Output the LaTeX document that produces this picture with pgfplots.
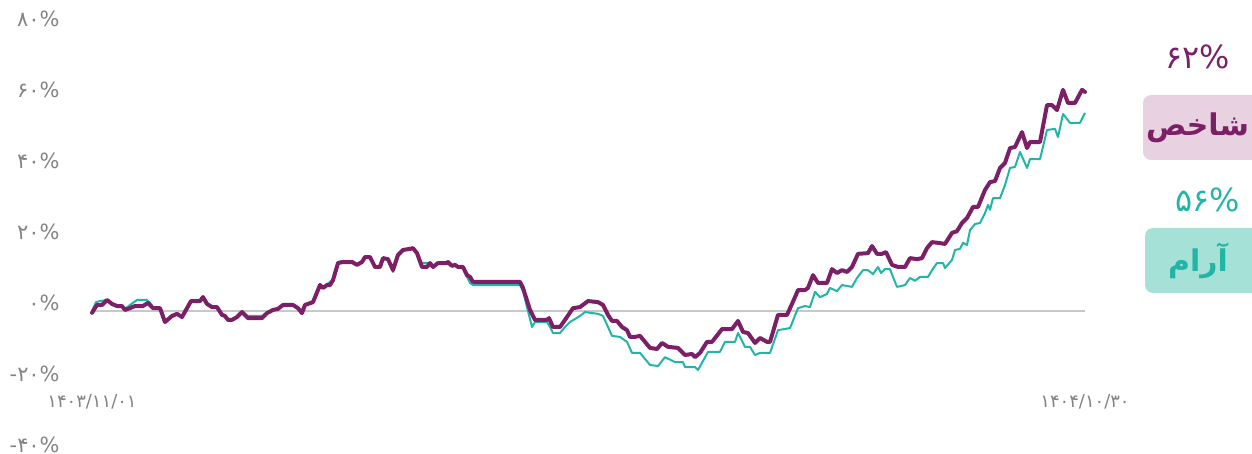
\documentclass[border=0pt]{standalone}
\usepackage{fontspec}
\usepackage{pgfplots}
\pgfplotsset{compat=1.18}
\TeXXeTstate=1
\newfontfamily\fa{DejaVu Sans}
\newfontfamily\arabicfont[Script=Arabic]{DejaVu Sans}
\definecolor{shakhes}{HTML}{7B1F66}
\definecolor{aram}{HTML}{22B5A6}
\definecolor{shakhesbg}{HTML}{E8D2E2}
\definecolor{arambg}{HTML}{A6E1D7}
\definecolor{lbl}{HTML}{838383}
\definecolor{zeroline}{HTML}{C8C8C8}

\begin{document}
\begin{tikzpicture}
\begin{axis}[
  width=496.5bp, height=213bp, scale only axis,
  xmin=0, xmax=993, ymin=-40, ymax=80,
  clip=false,
  axis line style={draw=none},
  major tick length=0pt,
  ytick={-40,-20,0,20,40,60,80},
  yticklabels={-۴۰\%,-۲۰\%,۰\%,۲۰\%,۴۰\%,۶۰\%,۸۰\%},
  yticklabel style={anchor=base east, inner sep=0pt, xshift=-16bp, yshift=0.5bp,
    font=\fa\fontsize{10.5}{12}\selectfont, text=lbl},
  xtick={0,993},
  xticklabels={۱۴۰۳/۱۱/۰۱,۱۴۰۴/۱۰/۳۰},
  xticklabel style={anchor=center, inner sep=0pt, yshift=25.5bp,
    font=\fa\fontsize{9}{10}\selectfont, text=lbl},
]
\draw[zeroline, line width=0.6bp] (axis cs:0,0) -- (axis cs:993,0);

% آرام
\addplot[aram, line width=1bp, line join=round] coordinates {
(0,0)(4,2.5)(8,2.8)(15,3.1)(20,2.0)(25,1.7)(30,1.4)(33,0.6)(38,1.7)(45,3.1)
(55,3.1)(58,2.3)(61,0.8)(68,0.8)(73,-3.1)(80,-1.4)(85,-0.8)(90,-1.7)(95,0.8)
(99,2.8)(108,2.8)(111,4.2)(115,2.0)(120,1.1)(125,1.1)(130,-1.1)(133,-1.4)
(136,-2.5)(140,-2.5)(145,-1.7)(150,-0.3)(156,-1.4)(170,-1.4)(175,-0.3)
(181,0.3)(186,0.6)(191,1.7)(201,1.7)(206,0.8)(210,-0.6)(213,1.7)(221,2.8)
(228,7.6)(231,6.8)(235,7.6)(241,8.7)(246,13.8)(251,14.1)(260,14.1)(265,13.0)
(270,13.8)(273,15.2)(278,15.2)(283,12.4)(288,12.4)(291,14.9)(296,14.6)
(301,11.0)(306,15.8)(311,17.2)(318,17.5)(321,17.7)(325,16.3)(330,13.5)
(335,13.5)(338,13.5)(341,12.4)(346,13.5)(355,13.5)(360,12.7)(363,13.0)
(366,12.4)(371,12.4)(375,9.6)(378,7.9)(381,7.3)(386,7.3)(428,7.3)(431,5.6)
(440,-4.5)(443,-3.1)(455,-3.1)(458,-4.5)(461,-6.2)(468,-6.2)(473,-4.5)
(478,-3.1)(488,-1.4)(493,-0.3)(506,-0.8)(511,-1.4)(520,-7.0)(528,-7.3)
(535,-8.7)(540,-11.8)(548,-11.8)(558,-15.2)(566,-15.5)(573,-13.0)(583,-14.4)
(591,-14.4)(593,-15.8)(603,-15.8)(606,-16.6)(610,-14.6)(616,-11.5)(628,-11.5)
(633,-8.7)(643,-8.7)(646,-6.2)(653,-10.1)(658,-10.1)(663,-12.4)(668,-11.8)
(678,-11.8)(686,-5.4)(698,-4.8)(706,0.8)(713,1.4)(718,1.1)(723,5.4)(728,3.9)
(735,4.8)(738,6.5)(745,5.6)(750,7.3)(760,6.8)(765,9.3)(771,11.5)(776,11.5)
(781,10.4)(786,12.4)(789,10.7)(793,11.8)(798,11.8)(801,9.6)(805,6.8)
(813,7.3)(818,9.3)(823,8.5)(828,9.6)(836,9.6)(840,11.5)(845,13.5)(851,13.5)
(853,12.1)(860,14.4)(863,17.2)(868,17.5)(871,19.2)(875,18.6)(878,22.8)
(883,24.5)(888,24.8)(893,27.6)(896,29.9)(898,28.5)(901,31.8)(908,31.8)
(913,35.5)(918,40.3)(923,40.6)(928,44.8)(935,40.3)(938,42.8)(948,42.8)
(955,51.0)(963,51.3)(966,49.0)(971,55.5)(978,53.0)(988,53.0)(993,55.8)
};

% شاخص
\addplot[shakhes, line width=2bp, line join=round, line cap=round] coordinates {
(0,-0.5)(5,1.7)(10,1.7)(15,3.1)(20,2.0)(25,1.4)(30,1.4)(33,0.3)(38,0.8)
(43,1.4)(51,1.4)(56,2.3)(61,0.8)(68,0.8)(73,-3.1)(80,-1.4)(85,-0.8)(90,-1.7)
(95,0.8)(99,2.8)(108,2.8)(111,3.9)(115,2.0)(120,1.1)(125,1.1)(130,-1.1)
(133,-1.4)(136,-2.5)(140,-2.5)(145,-1.7)(150,-0.3)(156,-2.0)(170,-2.0)
(175,-0.6)(181,0.3)(186,0.6)(191,1.7)(201,1.7)(206,0.8)(210,-0.6)(213,1.7)
(221,2.5)(228,7.3)(231,6.5)(235,7.3)(238,7.3)(241,8.7)(246,13.5)(251,13.8)
(260,13.8)(265,13.0)(270,13.8)(273,15.2)(278,15.2)(283,12.4)(288,12.4)
(291,14.9)(296,14.6)(301,11.5)(306,15.8)(311,17.2)(318,17.5)(321,17.7)
(325,16.3)(330,12.4)(335,12.4)(338,13.5)(341,12.4)(346,13.5)(355,13.5)
(356,13.8)(360,12.7)(363,13.0)(366,12.4)(371,12.4)(375,10.1)(378,9.6)
(381,8.2)(386,8.2)(428,8.2)(431,6.5)(438,0.3)(443,-2.5)(455,-2.5)(457,-2.0)
(461,-4.5)(468,-4.5)(473,-2.5)(481,0.8)(488,1.1)(496,2.8)(506,2.5)(511,1.7)
(516,-1.1)(520,-2.8)(525,-2.8)(530,-4.5)(535,-5.4)(538,-7.3)(543,-7.3)
(548,-7.0)(553,-8.7)(558,-10.4)(565,-10.7)(570,-9.0)(576,-10.1)(586,-10.4)
(593,-12.4)(600,-12.1)(603,-13.0)(608,-11.8)(615,-8.7)(620,-8.7)(630,-5.1)
(640,-5.1)(646,-2.8)(651,-5.9)(656,-6.2)(663,-9.0)(668,-7.6)(675,-8.7)
(678,-8.7)(686,-1.1)(695,-1.1)(703,3.9)(706,5.9)(713,5.9)(716,6.5)(721,10.1)
(726,7.9)(735,7.9)(740,11.8)(745,10.7)(750,11.5)(755,11.0)(760,12.4)
(766,16.1)(776,16.3)(780,18.3)(785,16.1)(790,16.1)(794,16.6)(800,13.0)
(806,12.4)(813,12.4)(818,14.9)(825,14.6)(830,14.9)(835,17.7)(840,19.4)
(846,19.2)(853,18.9)(860,22.0)(865,22.5)(870,24.8)(875,26.2)(881,29.3)
(886,29.3)(893,34.1)(898,36.3)(903,36.6)(908,40.3)(913,41.7)(918,45.9)
(923,46.2)(930,50.4)(935,45.9)(938,47.6)(948,47.6)(955,58.0)(960,58.0)
(965,56.6)(971,62.3)(976,58.6)(983,58.6)(990,62.3)(993,61.7)
};
\end{axis}

% legend on the right
\node[text=shakhes, anchor=east, inner sep=0pt] at (569bp,198bp)
  {\fa\fontsize{16}{18}\selectfont ۶۲\%};
\fill[shakhesbg, rounded corners=4bp] (525.5bp,146.5bp) rectangle (592bp,179bp);
\node[text=shakhes, inner sep=0pt] at (552.75bp,162.5bp)
  {\arabicfont\bfseries\fontsize{15}{18}\selectfont\beginR شاخص\endR};

\node[text=aram, anchor=east, inner sep=0pt] at (574bp,126.5bp)
  {\fa\fontsize{16}{18}\selectfont ۵۶\%};
\fill[arambg, rounded corners=4bp] (526.5bp,80bp) rectangle (592bp,112.5bp);
\node[text=aram, inner sep=0pt] at (553bp,96bp)
  {\arabicfont\bfseries\fontsize{15}{18}\selectfont\beginR آرام\endR};

\pgfresetboundingbox
\path (-46bp,-0.5bp) rectangle (580bp,226.5bp);
\end{tikzpicture}
\end{document}
